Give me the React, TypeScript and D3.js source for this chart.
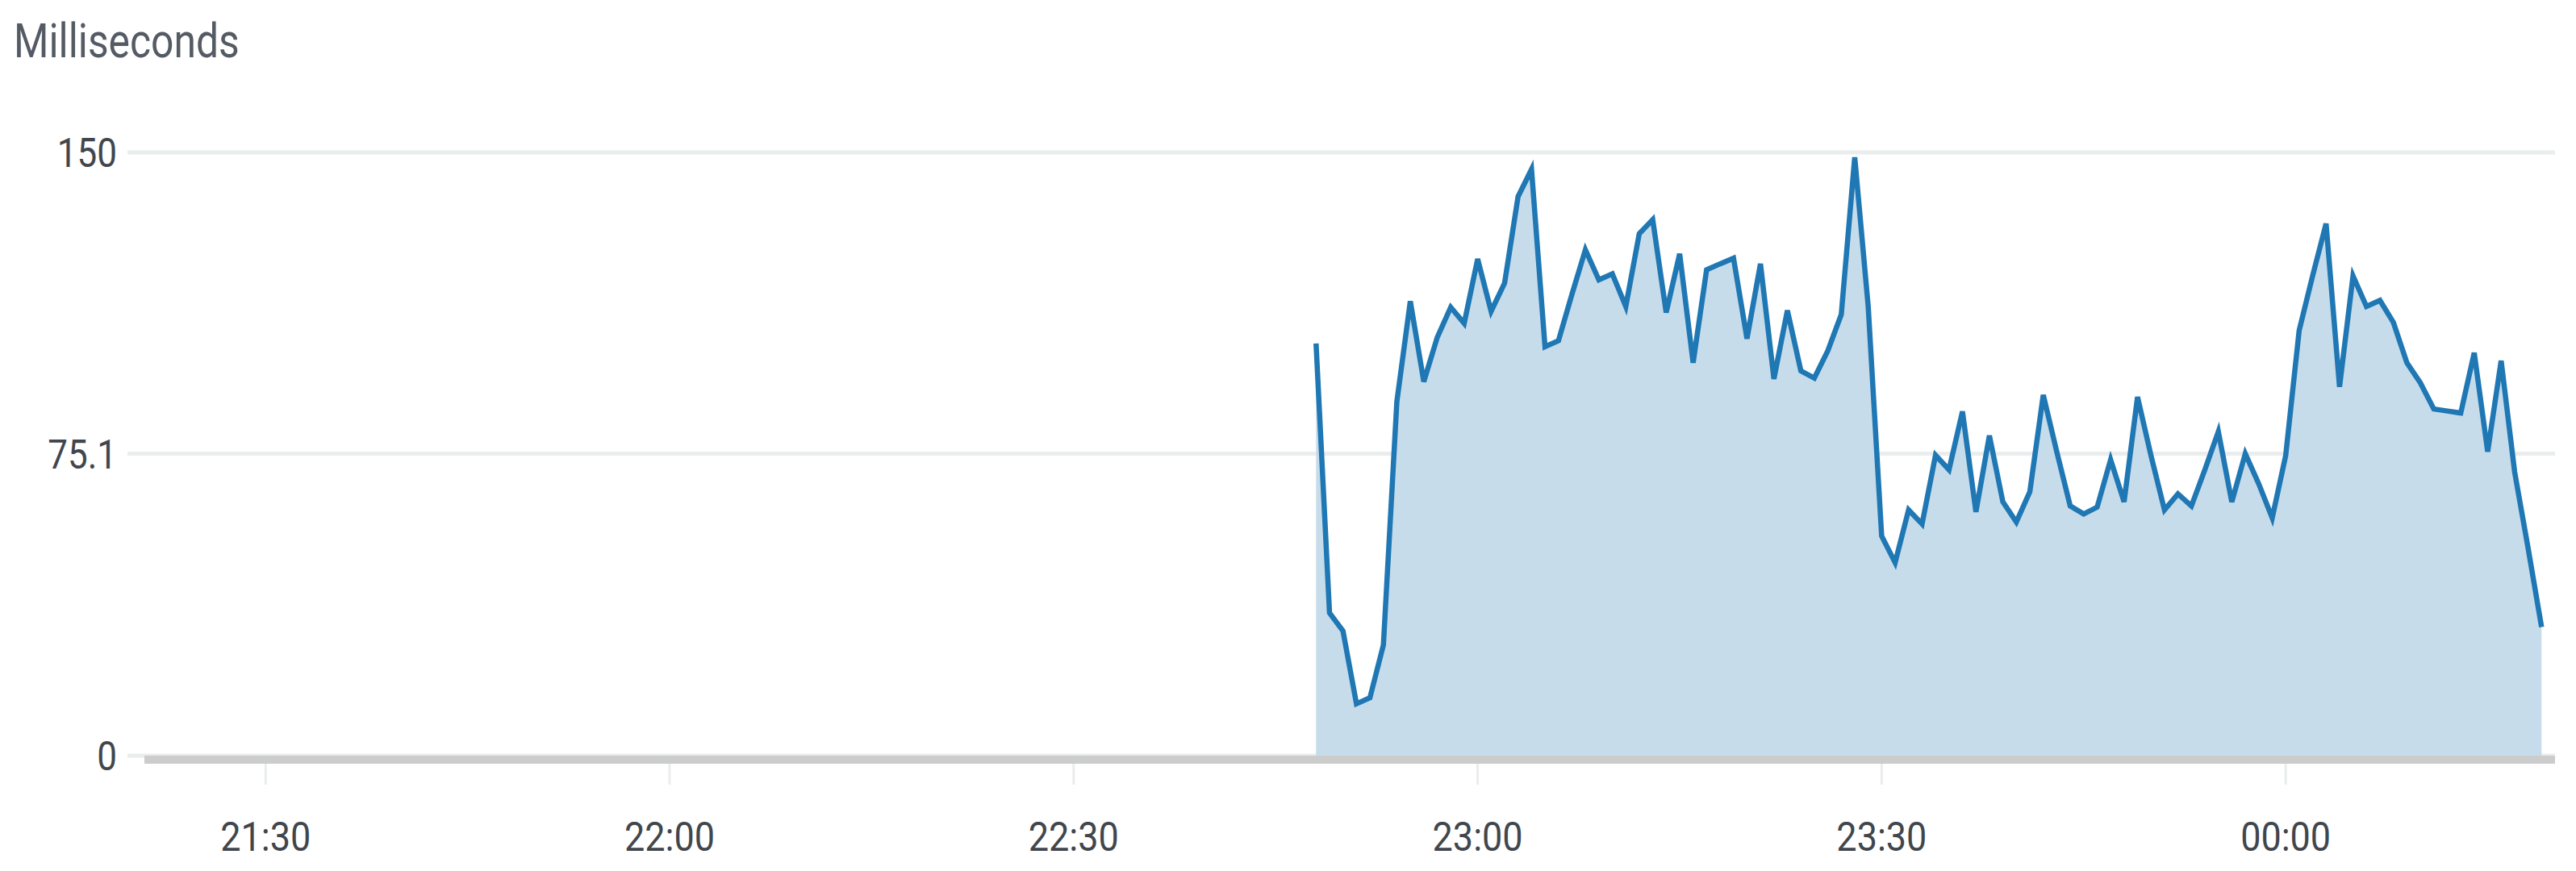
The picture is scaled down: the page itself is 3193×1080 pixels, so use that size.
import React, { useEffect, useRef } from 'react';
import * as d3 from 'd3';

// one sample per minute, first one at 22:48
const startTime = new Date(2021, 0, 1, 22, 48);
const domainStart = new Date(2021, 0, 1, 21, 21);
const domainEnd = new Date(2021, 0, 2, 0, 20);

const latency = [
  102.5, 35.5, 31, 12.9, 14.4, 27.5, 88, 113, 93, 104, 111.5, 107.5, 123.5, 110.5, 117.5, 139,
  145.8, 101.7, 103.2, 114.7, 125.8, 118.3, 119.8, 111.7, 129.8, 133.3, 110.2, 124.8, 97.7, 120.8, 122.3,
  123.7, 103.7, 122.3, 93.7, 110.7, 95.7, 93.9, 100.7, 109.7, 148.8, 111.7, 54.6, 48.0, 61.1, 57.6,
  74.7, 71.1, 85.6, 60.6, 79.6, 63.1, 58.1, 65.6, 89.7, 75.6, 62.1, 60.1, 61.8, 73.6, 63.1, 89.2,
  74.6, 61.1, 65.1, 62.1, 71.1, 80.6, 63.1, 75.1, 67.6, 59.1, 74.6, 105.7, 119.3, 132.3, 91.7,
  119.3, 111.7, 113.2, 107.7, 97.7, 92.7, 86.2, 85.7, 85.2, 100.2, 75.6, 98.2, 70.6, 51.6, 32
];

const yMax = 150.2;
const yTicks = [0, 75.1, 150];
const yTickLabels = ['0', '75.1', '150'];
const unitLabel = 'Milliseconds';

const App = () => {
  const ref = useRef<SVGSVGElement>(null);

  useEffect(() => {
    const width = 3193, height = 1080;
    const margin = { top: 188, right: 25, bottom: 143, left: 179 };
    const font = 'Roboto, "Liberation Sans", sans-serif';

    const svg = d3.select(ref.current);
    svg.selectAll('*').remove();

    const data = latency.map((v, i) => ({ t: d3.timeMinute.offset(startTime, i), v }));

    const x = d3.scaleTime()
      .domain([domainStart, domainEnd])
      .range([margin.left, width - margin.right - 1]);
    const y = d3.scaleLinear()
      .domain([0, yMax])
      .range([height - margin.bottom, margin.top]);

    // title
    svg.append('text')
      .attr('transform', 'translate(17,71) scale(0.83,1)')
      .attr('font-family', font)
      .attr('font-size', 60)
      .attr('fill', '#545b64')
      .text(unitLabel);

    // horizontal gridlines
    svg.append('g')
      .selectAll('line')
      .data(yTicks)
      .enter().append('line')
      .attr('x1', 158)
      .attr('x2', x.range()[1])
      .attr('y1', d => y(d))
      .attr('y2', d => y(d))
      .attr('stroke', '#eaeded')
      .attr('stroke-width', 5);

    // y labels
    svg.append('g')
      .selectAll('text')
      .data(yTicks)
      .enter().append('text')
      .attr('transform', d => `translate(145,${y(d)}) scale(0.88,1)`)
      .attr('dy', '0.36em')
      .attr('text-anchor', 'end')
      .attr('font-family', font)
      .attr('font-size', 50)
      .attr('fill', '#41464d')
      .text((d, i) => yTickLabels[i]);

    // area + line
    const area = d3.area<any>()
      .x(d => x(d.t))
      .y0(y(0))
      .y1(d => y(d.v));
    const line = d3.line<any>()
      .x(d => x(d.t))
      .y(d => y(d.v));

    svg.append('path')
      .datum(data)
      .attr('d', area)
      .attr('fill', '#c7dcea');

    svg.append('path')
      .datum(data)
      .attr('d', line)
      .attr('fill', 'none')
      .attr('stroke', '#1f77b4')
      .attr('stroke-width', 6.5);

    // x axis bar
    svg.append('rect')
      .attr('x', x.range()[0])
      .attr('y', y(0))
      .attr('width', x.range()[1] - x.range()[0])
      .attr('height', 10)
      .attr('fill', '#cccccc');

    const xTicks = x.ticks(d3.timeMinute.every(30) as any);
    const fmt = d3.timeFormat('%H:%M');

    const tick = svg.append('g')
      .selectAll('g')
      .data(xTicks)
      .enter().append('g')
      .attr('transform', d => `translate(${x(d)},0)`);

    tick.append('line')
      .attr('y1', y(0) + 10)
      .attr('y2', y(0) + 36)
      .attr('stroke', '#eaeded')
      .attr('stroke-width', 3);

    tick.append('text')
      .attr('transform', 'translate(0,1055) scale(0.9,1)')
      .attr('text-anchor', 'middle')
      .attr('font-family', font)
      .attr('font-size', 50)
      .attr('fill', '#41464d')
      .text(d => fmt(d));
  }, []);

  return (
    <svg ref={ref} width={3193} height={1080}
      style={{ position: 'absolute', left: 0, top: 0, background: '#fff' }} />
  );
};

export default App;
